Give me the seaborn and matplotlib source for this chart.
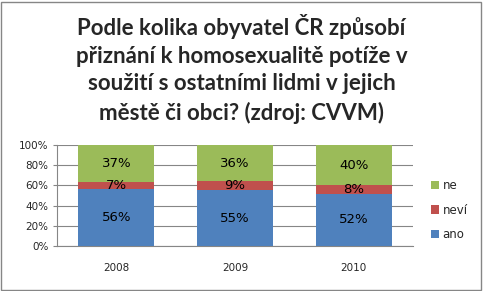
import matplotlib
matplotlib.use("Agg")
import matplotlib.pyplot as plt
import seaborn as sns
import pandas as pd
from matplotlib.patches import Rectangle

years = ["2008", "2009", "2010"]
ano = [56, 55, 52]
nevi = [7, 9, 8]
ne = [37, 36, 40]
series_names = ["ano", "neví", "ne"]
colors = {"ano": "#4F81BD", "neví": "#C0504D", "ne": "#9BBB59"}
title = "Podle kolika obyvatel ČR způsobí\npřiznání k homosexualitě potíže v\nsoužití s ostatními lidmi v jejich\nměstě či obci? (zdroj: CVVM)"

sns.set_style("white")
plt.rcParams["font.family"] = ["DejaVu Sans"]

fig = plt.figure(figsize=(4.83, 2.91), dpi=100)
ax = fig.add_axes([0.118, 0.1546, 0.737, 0.347])

df = pd.DataFrame({"year": years, "ano": ano, "neví": nevi, "ne": ne})
bottom = [0, 0, 0]
for name in series_names:
    vals = df[name].tolist()
    sns.barplot(x=df["year"], y=vals, bottom=bottom, color=colors[name],
                width=0.64, ax=ax, label=name, saturation=1, zorder=3,
                linewidth=0)
    bottom = [b + v for b, v in zip(bottom, vals)]

# labels
bottom = [0, 0, 0]
for name in series_names:
    vals = df[name].tolist()
    for i, v in enumerate(vals):
        ax.text(i, bottom[i] + v / 2, f"{v}%", ha="center", va="center",
                fontsize=9.5, color="black", zorder=5)
    bottom = [b + v for b, v in zip(bottom, vals)]

ax.set_ylim(0, 100)
ax.set_xlim(-0.5, 2.5)
ax.set_yticks([0, 20, 40, 60, 80, 100])
ax.set_yticklabels([f"{t}%" for t in [0, 20, 40, 60, 80, 100]], fontsize=7.5)
ax.tick_params(axis="x", labelsize=7.5, length=0, pad=12)
ax.tick_params(axis="y", length=3, color="#868686", pad=3, left=True)
ax.yaxis.grid(True, color="#868686", linewidth=0.8, zorder=0)
ax.set_axisbelow(True)
ax.set_xlabel("")
ax.set_ylabel("")
for s in ["top", "right"]:
    ax.spines[s].set_visible(False)
ax.spines["left"].set_color("#868686")
ax.spines["bottom"].set_color("#868686")

handles, labels = ax.get_legend_handles_labels()
leg = ax.legend(handles[::-1], labels[::-1], loc="center left",
                bbox_to_anchor=(1.02, 0.355), frameon=False, fontsize=8.5,
                handlelength=0.7, handleheight=0.7, handletextpad=0.3,
                labelspacing=1.0)

fig.text(0.5, 0.764, title, ha="center", va="center", fontsize=16,
         fontweight="bold", family=["Lato", "DejaVu Sans"], linespacing=1.4)

fig.patches.append(Rectangle((0.002, 0.004), 0.994, 0.99, transform=fig.transFigure,
                             fill=False, edgecolor="#868686", linewidth=1))

fig.savefig("out.png", dpi=100)
